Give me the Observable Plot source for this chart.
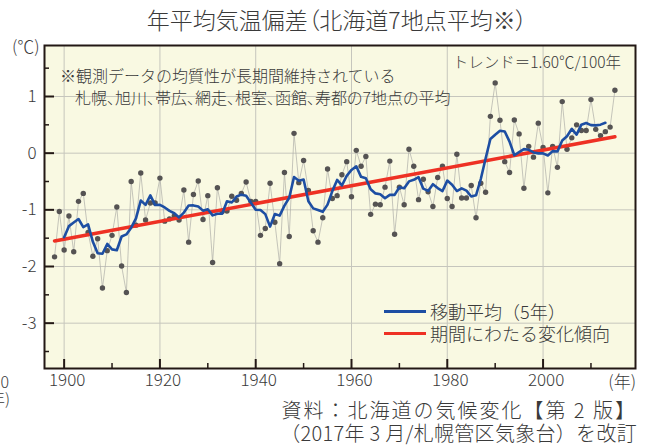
<!DOCTYPE html>
<html><head><meta charset="utf-8">
<script src="https://cdn.jsdelivr.net/npm/d3@7"></script>
<script src="https://cdn.jsdelivr.net/npm/@observablehq/plot@0.6"></script>
<style>
body{margin:0;background:#fff;overflow:hidden;}
#wrap{position:relative;width:647px;height:447px;overflow:hidden;font-family:"Noto Sans CJK JP","Noto Sans",sans-serif;color:#3a3a3a;font-weight:300;}
.t{position:absolute;white-space:nowrap;line-height:1;}
.sw{position:absolute;height:3px;}
#wrap svg{position:absolute;left:0;top:0;}
</style></head><body><div id="wrap"></div>
<script>
// ---- data ----
const years = [1898,1899,1900,1901,1902,1903,1904,1905,1906,1907,1908,1909,1910,1911,1912,1913,1914,1915,1916,1917,1918,1919,
1920,1921,1922,1923,1924,1925,1926,1927,1928,1929,1930,1931,1932,1933,1934,1935,1936,1937,1938,1939,
1940,1941,1942,1943,1944,1945,1946,1947,1948,1949,1950,1951,1952,1953,1954,1955,1956,1957,1958,1959,
1960,1961,1962,1963,1964,1965,1966,1967,1968,1969,1970,1971,1972,1973,1974,1975,1976,1977,1978,1979,
1980,1981,1982,1983,1984,1985,1986,1987,1988,1989,1990,1991,1992,1993,1994,1995,1996,1997,1998,1999,
2000,2001,2002,2003,2004,2005,2006,2007,2008,2009,2010,2011,2012,2013,2014,2015];
const anomalies = [-1.83,-1.03,-1.71,-1.11,-1.74,-0.85,-0.71,-1.40,-1.82,-1.51,-2.38,-1.72,-1.45,-0.95,-1.99,-2.46,-0.50,-1.27,-0.35,-1.18,-0.88,-0.88,
-0.44,-1.20,-1.16,-1.11,-1.18,-0.65,-1.57,-0.73,-0.49,-1.17,-0.75,-1.93,-0.61,-1.03,-1.02,-0.76,-0.83,-0.71,-0.51,-0.85,
-0.85,-1.45,-1.33,-0.53,-1.22,-1.95,-0.34,-1.47,0.35,-0.52,-0.13,-0.66,-1.37,-1.57,-1.14,-0.28,-0.80,-0.75,-0.38,-0.15,
-0.77,0.05,-0.23,-0.06,-1.08,-0.90,-0.91,-0.60,-0.14,-1.43,-0.60,-0.91,0.07,-0.23,-0.82,-0.46,-0.68,-0.94,-0.43,-0.23,
-0.80,-0.94,-0.02,-0.79,-0.79,-0.57,-1.14,-0.53,-0.69,0.65,1.24,0.58,-0.15,-0.34,0.585,0.34,-0.62,0.12,-0.07,0.53,
0.10,-0.70,0.12,-0.25,0.91,0.07,0.27,0.50,0.40,0.40,0.945,0.42,0.31,0.38,0.46,1.11];
// trend line end points (1.60℃/100年)
const trendYears = [1898, 2015];
const trendValues = [-1.55, 0.29];
// axis ticks
const xMajor = [1900,1920,1940,1960,1980,2000];
const xMinor = [1910,1930,1950,1970,1990,2010];
const yMajor = [-3,-2,-1,0,1];
const yMinor = [-3.5,-2.5,-1.5,-0.5,0.5,1.5];

const data = years.map((year,i)=>({year, value: anomalies[i]}));
const trend = trendYears.map((year,i)=>({year, value: trendValues[i]}));

const W=647,H=447,mL=44,mR=12,mT=45,mB=79;
const fw=W-mL-mR, fh=H-mT-mB;
const ink="#231815", txt="#3a3a3a";
const FONT='"Noto Sans CJK JP","Noto Sans",sans-serif';

const chart = Plot.plot({
  width:W, height:H, marginLeft:mL, marginRight:mR, marginTop:mT, marginBottom:mB,
  style:{background:"transparent", fontFamily:FONT, color:txt, fontSize:"17px", fontWeight:300},
  x:{domain:[1895.9,2019.3], label:null},
  y:{domain:[-3.8,1.9], label:null},
  marks:[
    Plot.frame({fill:"#f9f9e2"}),
    Plot.ruleX(xMajor,{stroke:"#c6c6bd",strokeWidth:1}),
    Plot.ruleY(yMajor,{stroke:"#c6c6bd",strokeWidth:1}),
    Plot.lineY(data,{x:"year",y:"value",stroke:"#aeaea8",strokeWidth:0.7}),
    Plot.dot(data,{x:"year",y:"value",r:2.7,fill:"#555353",stroke:"none"}),
    Plot.line(trend,{x:"year",y:"value",stroke:"#ee3124",strokeWidth:3.5}),
    Plot.lineY(data,Plot.windowY({k:5,anchor:"middle",strict:true},{x:"year",y:"value",stroke:"#1d4ea3",strokeWidth:2.6})),
    Plot.tickY(yMajor,{y:d=>d,insetRight:fw-10,stroke:ink,strokeWidth:2}),
    Plot.tickY(yMinor,{y:d=>d,insetRight:fw-5,stroke:ink,strokeWidth:1.5}),
    Plot.tickX(xMajor,{x:d=>d,insetTop:fh-9,stroke:ink,strokeWidth:2}),
    Plot.tickX(xMinor,{x:d=>d,insetTop:fh-5,stroke:ink,strokeWidth:1.5}),
    Plot.frame({stroke:ink,strokeWidth:2}),
    Plot.axisY(yMajor,{tickSize:0,tickPadding:8,tickFormat:d=>String(d),fontSize:17}),
    Plot.axisX(xMajor,{tickSize:0,tickPadding:5,dx:3,tickFormat:d=>String(d),fontSize:17})
  ]
});
const wrap=document.getElementById("wrap");
wrap.appendChild(chart);

function addText(s,x,cy,size,anchor,extra){
  const d=document.createElement("div");
  d.className="t"; d.textContent=s;
  d.style.fontSize=size+"px";
  d.style.top=(cy-size/2)+"px";
  if(anchor==="end"){d.style.right=(W-x)+"px";}
  else if(anchor==="middle"){d.style.left=x+"px";d.style.transform="translateX(-50%)";}
  else d.style.left=x+"px";
  if(extra) Object.assign(d.style,extra);
  wrap.appendChild(d);
}
function swatch(x1,x2,cy,color){
  const d=document.createElement("div");
  d.className="sw"; d.style.left=x1+"px"; d.style.width=(x2-x1)+"px";
  d.style.top=(cy-1.5)+"px"; d.style.background=color; wrap.appendChild(d);
}
addText("年平均気温偏差（北海道7地点平均※）",337,19,23,"middle",{fontFeatureSettings:'"palt"'});
addText("(℃)",12,45,17,"start");
addText("(年)",636,380,17,"end");
addText("2010",9,381,16,"end");
addText("(年)",10,398,16,"end");
addText("トレンド＝1.60℃/100年",621,62,15.5,"end");
addText("※観測データの均質性が長期間維持されている",60,75,16,"start");
addText("札幌、旭川、帯広、網走、根室、函館、寿都の7地点の平均",75,97,16,"start",{fontFeatureSettings:'"palt"'});
swatch(384,426,311,"#1d4ea3");
addText("移動平均（5年）",430,311,18,"start");
swatch(384,426,333,"#ee3124");
addText("期間にわたる変化傾向",430,333,18,"start");
addText("資料：北海道の気候変化【第 2 版】",637,410,20,"end",{letterSpacing:"2px"});
addText("（2017年 3 月/札幌管区気象台）を改訂",637,433,20,"end",{letterSpacing:"0.3px"});
</script></body></html>
